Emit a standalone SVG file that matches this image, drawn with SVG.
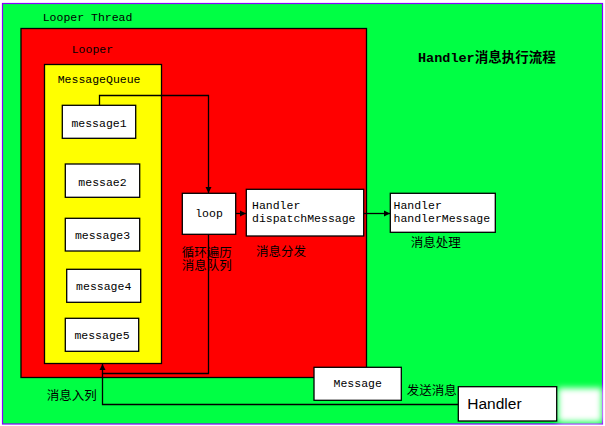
<svg xmlns="http://www.w3.org/2000/svg" width="605" height="426" viewBox="0 0 605 426">
<style>
.box{fill:#fff;stroke:#000;stroke-width:1.3}
.mono{font-family:"Liberation Mono","Noto Sans CJK SC",monospace;font-size:11.5px;fill:#000}
.cjk{font-family:"Noto Sans CJK SC",sans-serif;font-size:12.5px;fill:#000}
.title{font-family:"Liberation Mono","Noto Sans CJK SC",monospace;font-size:13.5px;font-weight:bold;fill:#000}
.conn{fill:none;stroke:#000;stroke-width:1.3}
</style>
<defs>
<marker id="arr" markerUnits="userSpaceOnUse" markerWidth="8" markerHeight="8" refX="6" refY="3.5" orient="auto">
<path d="M0,0.5 L6,3.5 L0,6.5 Z" fill="#000"/>
</marker>
<filter id="blur" x="-30%" y="-30%" width="160%" height="160%"><feGaussianBlur stdDeviation="3"/></filter>
</defs>
<rect x="0" y="0" width="605" height="426" fill="#fff"/>
<g id="looper-thread">
<rect x="2.5" y="3.5" width="600" height="420.5" fill="#00ff44" stroke="#8800ff" stroke-width="1.2"/>
<text class="mono" x="42.7" y="20.5">Looper Thread</text>
</g>
<g id="title">
<text class="title" x="418" y="62">Handler消息执行流程</text>
</g>
<g id="looper">
<rect x="21" y="28.5" width="345.5" height="349" fill="#ff0000" stroke="#000" stroke-width="1.3"/>
<text class="mono" x="71.7" y="53">Looper</text>
</g>
<g id="message-queue">
<rect x="44.5" y="64.5" width="117" height="299" fill="#ffff00" stroke="#000" stroke-width="1.3"/>
<text class="mono" x="57.7" y="83">MessageQueue</text>
</g>
<g id="connectors">
<path class="conn" d="M99.5,105.3 V95.5 H208.5 V193" marker-end="url(#arr)"/>
<path class="conn" d="M208.5,234.3 V373.5 H102.5 V364" marker-end="url(#arr)"/>
<path class="conn" d="M458.3,404.5 H102.5 V373.5"/>
<path class="conn" d="M235.7,213.5 H246" marker-end="url(#arr)"/>
<path class="conn" d="M363.7,213.5 H390" marker-end="url(#arr)"/>
</g>
<g id="message1">
<rect class="box" x="62.3" y="105.3" width="73.4" height="33"/>
<text class="mono" x="99" y="127" text-anchor="middle">message1</text>
</g>
<g id="messae2">
<rect class="box" x="65.3" y="164" width="74.4" height="33.3"/>
<text class="mono" x="102.5" y="185.5" text-anchor="middle">messae2</text>
</g>
<g id="message3">
<rect class="box" x="65.3" y="218.3" width="74.4" height="32.7"/>
<text class="mono" x="102.5" y="239" text-anchor="middle">message3</text>
</g>
<g id="message4">
<rect class="box" x="66.7" y="269.3" width="74" height="33"/>
<text class="mono" x="103.7" y="289.5" text-anchor="middle">message4</text>
</g>
<g id="message5">
<rect class="box" x="65.3" y="318.3" width="73.4" height="33"/>
<text class="mono" x="102" y="338.5" text-anchor="middle">message5</text>
</g>
<g id="loop">
<rect class="box" x="182.3" y="193.3" width="53.4" height="41"/>
<text class="mono" x="209" y="217" text-anchor="middle">loop</text>
<text class="cjk"><tspan x="181.7" y="256.5">循环遍历</tspan><tspan x="181.7" y="270">消息队列</tspan></text>
</g>
<g id="dispatch">
<rect class="box" x="246.3" y="189.3" width="117.4" height="46.7"/>
<text class="mono" x="252" y="209.3">Handler</text>
<text class="mono" x="252" y="222">dispatchMessage</text>
<text class="cjk" x="256" y="255.5">消息分发</text>
</g>
<g id="handler-message">
<rect class="box" x="390.3" y="193.3" width="105" height="39"/>
<text class="mono" x="393.5" y="209.3">Handler</text>
<text class="mono" x="393.5" y="222">handlerMessage</text>
<text class="cjk" x="410.7" y="247">消息处理</text>
</g>
<g id="enqueue-label">
<text class="cjk" x="46.7" y="399.5">消息入列</text>
</g>
<g id="message">
<rect class="box" x="314" y="367.3" width="87.3" height="33"/>
<text class="mono" x="357.7" y="387" text-anchor="middle">Message</text>
<text class="cjk" x="406.7" y="394.5">发送消息</text>
</g>
<rect x="558" y="388" width="44" height="34" fill="#fff" filter="url(#blur)"/>
<g id="handler">
<rect class="box" x="458.3" y="386.7" width="98.4" height="34.3"/>
<text x="467.3" y="408.5" style="font-family:'Liberation Sans',Arial,sans-serif;font-size:15.5px;fill:#000">Handler</text>
</g>
</svg>
